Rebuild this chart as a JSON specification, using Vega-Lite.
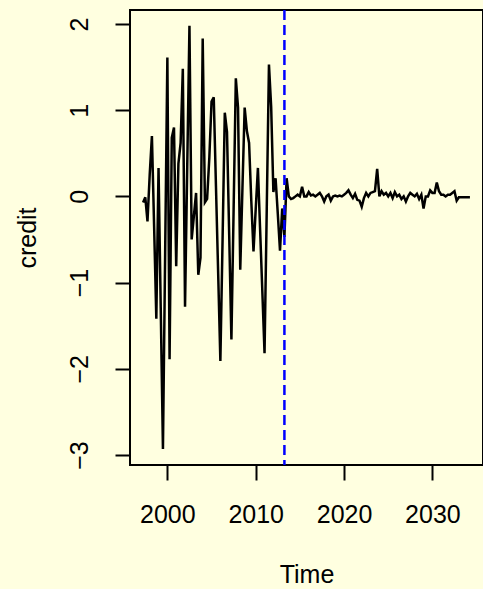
{
  "$schema": "https://vega.github.io/schema/vega-lite/v6.json",
  "width": 353,
  "height": 455,
  "autosize": "none",
  "padding": {"left": 130, "top": 10, "right": 0, "bottom": 124},
  "background": "#FFFFE0",
  "config": {
    "view": {"stroke": "#000000", "strokeWidth": 2},
    "font": "Liberation Sans"
  },
  "datasets": {
    "series": [
      {"t":1997.25,"v":-0.07},{"t":1997.5,"v":-0.01},{"t":1997.75,"v":-0.29},{"t":1998,"v":0.25},
      {"t":1998.25,"v":0.70},{"t":1998.5,"v":-0.35},{"t":1998.75,"v":-1.42},{"t":1999,"v":0.33},
      {"t":1999.25,"v":-1.30},{"t":1999.5,"v":-2.93},{"t":1999.75,"v":-0.65},{"t":2000,"v":1.61},
      {"t":2000.25,"v":-1.89},{"t":2000.5,"v":0.68},{"t":2000.75,"v":0.80},{"t":2001,"v":-0.81},
      {"t":2001.25,"v":0.38},{"t":2001.5,"v":0.62},{"t":2001.75,"v":1.48},{"t":2002,"v":-1.28},
      {"t":2002.25,"v":0.35},{"t":2002.5,"v":1.98},{"t":2002.75,"v":-0.50},{"t":2003,"v":-0.23},
      {"t":2003.25,"v":0.04},{"t":2003.5,"v":-0.91},{"t":2003.75,"v":-0.71},{"t":2004,"v":1.83},
      {"t":2004.25,"v":-0.07},{"t":2004.5,"v":-0.03},{"t":2004.75,"v":0.45},{"t":2005,"v":1.10},
      {"t":2005.25,"v":1.15},{"t":2005.5,"v":0.12},{"t":2005.75,"v":-0.89},{"t":2006,"v":-1.91},
      {"t":2006.25,"v":-0.50},{"t":2006.5,"v":0.97},{"t":2006.75,"v":0.75},{"t":2007,"v":-0.45},
      {"t":2007.25,"v":-1.66},{"t":2007.5,"v":-0.15},{"t":2007.75,"v":1.37},{"t":2008,"v":1.03},
      {"t":2008.25,"v":-0.85},{"t":2008.5,"v":0.10},{"t":2008.75,"v":1.03},{"t":2009,"v":0.76},
      {"t":2009.25,"v":0.62},{"t":2009.5,"v":-0.05},{"t":2009.75,"v":-0.64},{"t":2010,"v":-0.15},
      {"t":2010.25,"v":0.33},{"t":2010.5,"v":-0.39},{"t":2010.75,"v":-1.10},{"t":2011,"v":-1.82},
      {"t":2011.25,"v":-0.15},{"t":2011.5,"v":1.53},{"t":2011.75,"v":1.04},{"t":2012,"v":0.05},
      {"t":2012.25,"v":0.21},{"t":2012.5,"v":-0.20},{"t":2012.75,"v":-0.63},{"t":2013,"v":-0.14},
      {"t":2013.25,"v":-0.47},{"t":2013.5,"v":0.21},{"t":2013.75,"v":0.00},{"t":2014,"v":-0.03},
      {"t":2014.25,"v":-0.02},{"t":2014.5,"v":0.00},{"t":2014.75,"v":0.02},{"t":2015,"v":0.00},
      {"t":2015.25,"v":0.11},{"t":2015.5,"v":0.00},{"t":2015.75,"v":0.00},{"t":2016,"v":0.05},
      {"t":2016.25,"v":0.01},{"t":2016.5,"v":0.02},{"t":2016.75,"v":0.00},{"t":2017,"v":0.02},
      {"t":2017.25,"v":0.04},{"t":2017.5,"v":0.00},{"t":2017.75,"v":-0.06},{"t":2018,"v":0.00},
      {"t":2018.25,"v":0.02},{"t":2018.5,"v":-0.05},{"t":2018.75,"v":0.00},{"t":2019,"v":0.01},
      {"t":2019.25,"v":0.00},{"t":2019.5,"v":0.01},{"t":2019.75,"v":0.00},{"t":2020,"v":0.02},
      {"t":2020.25,"v":0.04},{"t":2020.5,"v":0.07},{"t":2020.75,"v":0.02},{"t":2021,"v":-0.02},
      {"t":2021.25,"v":0.03},{"t":2021.5,"v":-0.04},{"t":2021.75,"v":-0.05},{"t":2022,"v":-0.12},
      {"t":2022.25,"v":-0.02},{"t":2022.5,"v":0.04},{"t":2022.75,"v":0.00},{"t":2023,"v":0.04},
      {"t":2023.25,"v":0.05},{"t":2023.5,"v":0.06},{"t":2023.75,"v":0.32},{"t":2024,"v":0.00},
      {"t":2024.25,"v":0.06},{"t":2024.5,"v":0.02},{"t":2024.75,"v":0.04},{"t":2025,"v":0.00},
      {"t":2025.25,"v":0.04},{"t":2025.5,"v":-0.02},{"t":2025.75,"v":0.05},{"t":2026,"v":0.00},
      {"t":2026.25,"v":0.02},{"t":2026.5,"v":-0.03},{"t":2026.75,"v":0.00},{"t":2027,"v":-0.06},
      {"t":2027.25,"v":0.00},{"t":2027.5,"v":0.04},{"t":2027.75,"v":0.02},{"t":2028,"v":0.00},
      {"t":2028.25,"v":0.03},{"t":2028.5,"v":-0.03},{"t":2028.75,"v":0.02},{"t":2029,"v":-0.14},
      {"t":2029.25,"v":0.00},{"t":2029.5,"v":0.00},{"t":2029.75,"v":0.07},{"t":2030,"v":0.04},
      {"t":2030.25,"v":0.04},{"t":2030.5,"v":0.16},{"t":2030.75,"v":0.06},{"t":2031,"v":0.02},
      {"t":2031.25,"v":0.02},{"t":2031.5,"v":0.00},{"t":2031.75,"v":0.02},{"t":2032,"v":0.02},
      {"t":2032.25,"v":0.04},{"t":2032.5,"v":0.06},{"t":2032.75,"v":-0.05},{"t":2033,"v":-0.01},
      {"t":2033.25,"v":-0.01},{"t":2033.5,"v":-0.01},{"t":2033.75,"v":-0.01},{"t":2034,"v":-0.01},
      {"t":2034.25,"v":-0.01}
    ],
    "cut": [{"t": 2013.25}]
  },
  "layer": [
    {
      "data": {"name": "series"},
      "mark": {"type": "line", "color": "#000000", "strokeWidth": 2.5, "interpolate": "linear"},
      "encoding": {
        "x": {
          "field": "t", "type": "quantitative",
          "scale": {"domain": [1995.77, 2035.73], "nice": false, "zero": false},
          "axis": {
            "values": [2000, 2010, 2020, 2030],
            "format": "d",
            "domain": false, "grid": false,
            "tickSize": 15, "tickWidth": 2, "tickColor": "#000000",
            "labelFont": "Liberation Sans", "labelFontSize": 25, "labelColor": "#000000",
            "labelBaseline": "alphabetic", "labelPadding": 42,
            "labelOverlap": false, "labelFlush": false, "labelBound": false,
            "title": "Time",
            "titleFont": "Liberation Sans", "titleFontSize": 25, "titleFontWeight": "normal", "titleColor": "#000000",
            "titleX": 176.5, "titleY": 117, "titleAlign": "center", "titleBaseline": "alphabetic"
          }
        },
        "y": {
          "field": "v", "type": "quantitative",
          "scale": {"domain": [-3.116, 2.162], "nice": false, "zero": false},
          "axis": {
            "values": [-3, -2, -1, 0, 1, 2],
            "domain": false, "grid": false,
            "tickSize": 15, "tickWidth": 2, "tickColor": "#000000",
            "labelFont": "Liberation Sans", "labelFontSize": 25, "labelColor": "#000000",
            "labelAngle": 270, "labelAlign": "center", "labelBaseline": "alphabetic", "labelPadding": 27.5,
            "labelOverlap": false, "labelFlush": false, "labelBound": false,
            "title": "credit",
            "titleFont": "Liberation Sans", "titleFontSize": 25, "titleFontWeight": "normal", "titleColor": "#000000",
            "titleAngle": 270, "titleX": -95, "titleY": 227.5, "titleAlign": "center", "titleBaseline": "alphabetic"
          }
        }
      }
    },
    {
      "data": {"name": "cut"},
      "mark": {"type": "rule", "color": "#0000FF", "strokeWidth": 2.5, "strokeDash": [10, 5]},
      "encoding": {
        "x": {"field": "t", "type": "quantitative"}
      }
    }
  ]
}
